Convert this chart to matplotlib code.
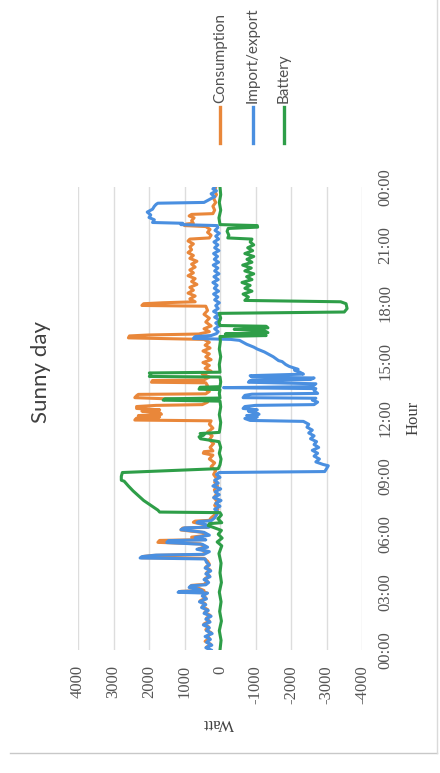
import matplotlib.pyplot as plt
from matplotlib.lines import Line2D

# hours (decimal) and watts
cons_h = [0.00, 0.15, 0.30, 0.45, 0.60, 0.75, 0.90, 1.05, 1.20, 1.35, 1.50, 1.65, 1.80, 1.95, 2.10,
          2.25, 2.40, 2.55, 2.70, 2.85, 2.97, 3.00, 3.04, 3.08, 3.20, 3.25, 3.35, 3.40, 3.55, 3.70,
          3.85, 4.00, 4.15, 4.30, 4.45, 4.60, 4.75, 4.78, 4.85, 4.90, 4.95, 5.10, 5.25, 5.35, 5.50,
          5.58, 5.68, 5.72, 5.85, 5.95, 6.10, 6.22, 6.32, 6.36, 6.50, 6.62, 6.68, 6.72, 6.85, 7.00,
          7.15, 7.30, 7.50, 7.70, 7.90, 8.10, 8.30, 8.50, 8.70, 8.90, 9.10, 9.30, 9.50, 9.70, 9.90,
          10.10, 10.20, 10.28, 10.32, 10.50, 10.70, 10.90, 11.10, 11.30, 11.50, 11.70, 11.88, 11.92,
          12.02, 12.08, 12.15, 12.22, 12.30, 12.38, 12.45, 12.52, 12.62, 12.68, 12.72, 12.85, 12.95,
          13.08, 13.18, 13.25, 13.28, 13.40, 13.55, 13.70, 13.85, 13.88, 13.97, 14.00, 14.15, 14.30,
          14.45, 14.60, 14.75, 14.90, 15.05, 15.20, 15.35, 15.50, 15.65, 15.80, 15.95, 16.10, 16.18,
          16.28, 16.33, 16.38, 16.50, 16.65, 16.80, 17.00, 17.20, 17.40, 17.60, 17.82, 17.86, 17.95,
          18.00, 18.05, 18.20, 18.35, 18.50, 18.65, 18.80, 18.95, 19.10, 19.25, 19.40, 19.55, 19.70,
          19.85, 20.00, 20.15, 20.30, 20.45, 20.60, 20.75, 20.90, 21.05, 21.20, 21.30, 21.36, 21.50,
          21.65, 21.80, 21.95, 22.00, 22.08, 22.12, 22.25, 22.40, 22.50, 22.58, 22.62, 22.80, 23.00,
          23.20, 23.40, 23.60, 23.80, 24.00]
cons_w = [300, 380, 260, 420, 300, 350, 250, 400, 320, 450, 300, 380, 280, 430, 350,
          500, 420, 560, 400, 470, 380, 1150, 1100, 450, 600, 850, 800, 450, 350, 420,
          300, 380, 280, 400, 300, 350, 450, 2200, 2150, 1900, 500, 350, 600, 400, 550,
          1750, 1700, 450, 800, 350, 500, 1100, 1050, 350, 450, 750, 700, 300, 250, 150,
          120, 60, 150, 80, 170, 90, 160, 70, 150, 100, 180, 120, 250, 150, 300,
          200, 470, 450, 200, 280, 180, 300, 220, 350, 200, 300, 250, 2400,
          2350, 1700, 2300, 1650, 1700, 2200, 1700, 2350, 2350, 1800, 500, 350, 450,
          2400, 2350, 2300, 400, 300, 450, 350, 400, 1930, 1900, 450, 300, 500,
          250, 420, 300, 480, 250, 400, 300, 480, 280, 420, 300, 450, 2580,
          2550, 2000, 600, 300, 450, 250, 400, 300, 450, 350, 400, 2200, 2150,
          1600, 700, 850, 700, 900, 750, 850, 650, 800, 700, 900, 750, 850,
          700, 800, 650, 850, 750, 900, 800, 850, 750, 900, 850, 300, 250,
          350, 280, 400, 1000, 950, 750, 800, 730, 870, 800, 200, 150, 200,
          120, 180, 100, 150, 120]

grid_h = [0.00, 0.12, 0.25, 0.40, 0.55, 0.70, 0.85, 1.00, 1.15, 1.30, 1.45, 1.60, 1.75, 1.90, 2.05,
          2.20, 2.35, 2.50, 2.65, 2.80, 2.95, 2.99, 3.03, 3.07, 3.18, 3.24, 3.33, 3.38, 3.50, 3.65,
          3.80, 3.95, 4.10, 4.25, 4.40, 4.55, 4.72, 4.77, 4.84, 4.92, 4.96, 5.10, 5.22, 5.33, 5.48,
          5.57, 5.67, 5.71, 5.83, 5.95, 6.10, 6.24, 6.33, 6.37, 6.50, 6.60, 6.66, 6.70, 6.85, 7.00,
          7.15, 7.30, 7.45, 7.60, 7.75, 7.90, 8.05, 8.20, 8.35, 8.50, 8.65, 8.80, 8.95, 9.10, 9.20,
          9.25, 9.40, 9.55, 9.62, 9.75, 9.90, 10.05, 10.20, 10.35, 10.50, 10.65, 10.80, 10.95, 11.10,
          11.25, 11.40, 11.55, 11.70, 11.85, 11.90, 12.00, 12.08, 12.15, 12.22, 12.30, 12.38, 12.45,
          12.52, 12.62, 12.68, 12.72, 12.85, 12.95, 13.05, 13.08, 13.20, 13.26, 13.30, 13.45, 13.55,
          13.60, 13.65, 13.80, 13.88, 13.97, 14.02, 14.10, 14.15, 14.22, 14.30, 14.40, 14.50, 14.55,
          14.70, 14.80, 14.95, 15.00, 15.20, 15.30, 15.45, 15.60, 15.70, 15.85, 15.95, 16.05, 16.10,
          16.15, 16.25, 16.30, 16.40, 16.50, 16.65, 16.80, 16.95, 17.10, 17.25, 17.40, 17.55, 17.70,
          17.85, 18.00, 18.15, 18.30, 18.45, 18.60, 18.75, 18.90, 19.05, 19.20, 19.35, 19.50, 19.65,
          19.80, 19.95, 20.10, 20.25, 20.40, 20.55, 20.70, 20.85, 21.00, 21.15, 21.30, 21.45, 21.60,
          21.75, 21.90, 22.00, 22.05, 22.12, 22.16, 22.30, 22.42, 22.55, 22.70, 22.85, 23.00, 23.10,
          23.16, 23.20, 23.35, 23.50, 23.65, 23.80, 23.90, 24.00]
grid_w = [250, 400, 230, 380, 270, 420, 220, 380, 300, 470, 280, 400, 250, 450, 330,
          520, 400, 580, 380, 500, 350, 1180, 1150, 500, 650, 870, 820, 400, 320, 450,
          280, 400, 260, 420, 300, 380, 420, 2250, 2200, 1800, 450, 300, 650, 350, 500,
          1500, 1450, 400, 700, 300, 450, 1100, 1000, 300, 400, 650, 600, 250, 150, 100,
          50, 150, 0, 120, -30, 180, 20, 140, -20, 200, 50, 150, 0, 100, 20,
          -2950, -3000, -3050, -2900, -2700, -2800, -2650, -2750, -2600, -2780, -2650, -2720, -2550, -2650,
          -2500, -2600, -2450, -2500, -2350, -850, -700, -1050, -750, -1100, -1000, -800, -1050,
          -650, -700, -1000, -2650, -2750, -2600, -2700, -650, -700, -900, -2750, -2650, -2700,
          -100, -2600, -2700, -800, -850, -2550, -2650, -900, -850, -2350, -2250, -2100, -2200,
          -1950, -1850, -1750, -1650, -1500, -1400, -1250, -1050, -950, -750, -650, -550, -300,
          750, 700, 250, 100, 50, 150, 20, 120, 0, 150, 30, 180, 50,
          120, 20, 150, 60, 180, 40, 160, 80, 200, 50, 170, 30, 150,
          60, 190, 40, 160, 70, 180, 30, 150, 60, 170, 40, 120, 20,
          140, 60, 80, 1100, 1050, 1900, 1850, 2000, 1950, 2050, 1900, 1850, 1800,
          1750, 450, 300, 150, 250, 100, 200, 150]

batt_h = [0.0, 0.5, 1.0, 1.5, 2.0, 2.5, 3.0, 3.5, 4.0, 4.5, 5.0, 5.4, 5.6, 5.8, 6.0, 6.2,
          6.45, 6.55, 6.6, 6.8, 7.0, 7.12, 7.15, 7.25, 7.5, 7.75, 8.0, 8.25, 8.5, 8.75, 8.8,
          9.0, 9.2, 9.4, 9.6, 9.9, 10.2, 10.5, 10.8, 10.95, 11.05, 11.15, 11.22, 11.28, 11.5,
          11.8, 12.2, 12.6, 12.9, 12.95, 13.02, 13.06, 13.3, 13.5, 13.52, 13.62, 13.65, 13.9,
          14.15, 14.18, 14.3, 14.36, 14.4, 14.8, 15.2, 15.6, 16.0, 16.25, 16.3, 16.38, 16.45,
          16.55, 16.62, 16.7, 16.78, 16.82, 17.0, 17.2, 17.45, 17.52, 17.7, 17.95, 18.05, 18.12,
          18.3, 18.45, 18.6, 18.75, 18.9, 19.05, 19.2, 19.35, 19.5, 19.65, 19.8, 19.95, 20.1,
          20.25, 20.4, 20.55, 20.7, 20.85, 21.0, 21.15, 21.3, 21.36, 21.5, 21.7, 21.85, 21.92,
          22.0, 22.05, 22.4, 22.8, 23.2, 23.6, 24.0]
batt_w = [0, -30, 20, -40, 10, -30, 20, -40, 0, -30, 30, -50, 80, -60, 50, -40,
          330, 300, -50, 60, -40, 0, 1700, 1750, 1950, 2150, 2300, 2450, 2580, 2700, 2780,
          2780, 2750, 50, 0, -30, 20, -20, 30, 550, 590, 450, 560, 20, 0,
          -20, 20, -20, 0, 1600, 1550, 0, 20, 0, 590, 560, 0, -20,
          0, 1990, 1950, 1990, 0, 20, -20, 20, -10, 0, -1300, -150, -1350,
          -1250, -400, -1350, -1300, 0, 30, -20, 20, -3500, -3580, -3550, -3400, -700,
          -800, -650, -900, -700, -850, -620, -900, -750, -950, -700, -880, -640, -900,
          -760, -950, -700, -920, -780, -950, -850, -900, -220, -250, -200, -230, -1060,
          -1050, 0, 30, -20, 20, -20, 0]

series = ['Consumption', 'Import/export', 'Battery']
colors = ['#E9873A', '#4A8FE0', '#2E9E48']
watt_ticks = [4000, 3000, 2000, 1000, 0, -1000, -2000, -3000, -4000]
hour_ticks = [0, 3, 6, 9, 12, 15, 18, 21, 24]
hour_labels = ['00:00', '03:00', '06:00', '09:00', '12:00', '15:00', '18:00', '21:00', '00:00']

W, H = 440, 773
fig = plt.figure(figsize=(W/100, H/100), dpi=100)
# the printed chart is turned a quarter turn: hours run upwards, watts run right-to-left
ax = fig.add_axes([78/W, 1 - 650/H, (362 - 78)/W, (650 - 187)/H])

ax.plot(cons_w, cons_h, color=colors[0], lw=2.2, solid_joinstyle='round')
ax.plot(grid_w, grid_h, color=colors[1], lw=2.2, solid_joinstyle='round')
ax.plot(batt_w, batt_h, color=colors[2], lw=2.2, solid_joinstyle='round')

ax.set_xlim(4000, -4000)
ax.set_ylim(0, 24)
ax.set_xticks(watt_ticks)
ax.set_xticklabels([str(t) for t in watt_ticks], rotation=90,
                   family='Liberation Serif', fontsize=12, color='#555555')
ax.set_yticks(hour_ticks)
ax.set_yticklabels(hour_labels, rotation=90, va='center',
                   family='Liberation Serif', fontsize=12, color='#555555')
ax.yaxis.tick_right()
ax.tick_params(axis='x', length=0, pad=11)
ax.tick_params(axis='y', length=0, pad=11)
ax.grid(axis='x', color='#DDDDDD', lw=1)
ax.set_axisbelow(True)
for s in ax.spines.values():
    s.set_visible(False)

fig.text(41/W, 1 - 372/H, 'Sunny day', rotation=90, ha='center', va='center',
         family='Lato', fontsize=16, color='#404040')
fig.text(414/W, 1 - 418/H, 'Hour', rotation=90, ha='center', va='center',
         family='Liberation Serif', fontsize=12, color='#404040')
fig.text(218/W, 1 - 723/H, 'Watt', rotation=180, ha='center', va='center',
         family='Liberation Serif', fontsize=12, color='#404040')

# legend, drawn by hand so it can stand on its side
leg_x = [220, 253, 284]
for name, c, x in zip(series, colors, leg_x):
    fig.add_artist(Line2D([x/W, x/W], [1 - 143/H, 1 - 107/H], color=c, lw=2.4))
    fig.text(x/W, 1 - 103/H, name, rotation=90, ha='center', va='bottom',
             family='Lato', fontsize=11, color='#505050')

# page frame
fig.add_artist(Line2D([10/W, 437/W], [1 - 753/H, 1 - 753/H], color='#C8C8C8', lw=1))
fig.add_artist(Line2D([437/W, 437/W], [1 - 753/H, 1.0], color='#DADADA', lw=1))

fig.savefig('out.png', dpi=100)
